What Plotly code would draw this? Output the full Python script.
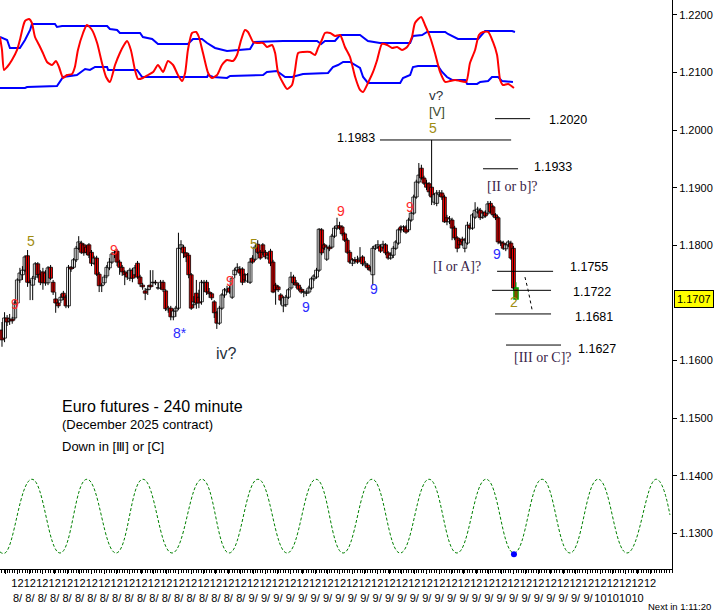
import numpy as np
import plotly.graph_objects as go

# ---------------- data ----------------
opens = [
    1.1653, 1.1639, 1.1674, 1.1669, 1.1672, 1.1674, 1.1700, 1.1740, 1.1749, 1.1757,
    1.1782, 1.1736, 1.1731, 1.1745, 1.1768, 1.1750, 1.1754, 1.1752, 1.1735, 1.1762,
    1.1736, 1.1707, 1.1700, 1.1705, 1.1717, 1.1710, 1.1695, 1.1762, 1.1762, 1.1775,
    1.1795, 1.1804, 1.1801, 1.1797, 1.1801, 1.1788, 1.1769, 1.1778, 1.1750, 1.1730,
    1.1735, 1.1747, 1.1761, 1.1771, 1.1785, 1.1790, 1.1771, 1.1762, 1.1754, 1.1752,
    1.1743, 1.1757, 1.1749, 1.1769, 1.1745, 1.1731, 1.1721, 1.1723, 1.1731, 1.1735,
    1.1736, 1.1726, 1.1726, 1.1736, 1.1721, 1.1688, 1.1691, 1.1676, 1.1686, 1.1691,
    1.1795, 1.1797, 1.1787, 1.1783, 1.1749, 1.1697, 1.1717, 1.1710, 1.1702, 1.1735,
    1.1736, 1.1719, 1.1716, 1.1702, 1.1683, 1.1665, 1.1691, 1.1714, 1.1721, 1.1726,
    1.1710, 1.1749, 1.1757, 1.1759, 1.1759, 1.1749, 1.1738, 1.1736, 1.1778, 1.1776,
    1.1802, 1.1788, 1.1801, 1.1788, 1.1778, 1.1790, 1.1771, 1.1731, 1.1728, 1.1714,
    1.1695, 1.1697, 1.1710, 1.1726, 1.1745, 1.1735, 1.1731, 1.1724, 1.1719, 1.1717,
    1.1719, 1.1726, 1.1742, 1.1745, 1.1757, 1.1827, 1.1801, 1.1776, 1.1797, 1.1797,
    1.1816, 1.1830, 1.1834, 1.1832, 1.1820, 1.1809, 1.1788, 1.1769, 1.1775, 1.1775,
    1.1775, 1.1780, 1.1766, 1.1766, 1.1761, 1.1749, 1.1795, 1.1797, 1.1799, 1.1797,
    1.1801, 1.1787, 1.1778, 1.1783, 1.1795, 1.1804, 1.1832, 1.1827, 1.1832, 1.1827,
    1.1844, 1.1856, 1.1884, 1.1910, 1.1934, 1.1917, 1.1908, 1.1907, 1.1901, 1.1875,
    1.1873, 1.1888, 1.1891, 1.1884, 1.1848, 1.1841, 1.1844, 1.1830, 1.1813, 1.1809,
    1.1811, 1.1795, 1.1804, 1.1835, 1.1830, 1.1849, 1.1858, 1.1861, 1.1849, 1.1858,
    1.1856, 1.1873, 1.1867, 1.1853, 1.1848, 1.1806, 1.1804, 1.1794, 1.1801, 1.1804,
    1.1795, 1.1726,
]
highs = [
    1.1667, 1.1684, 1.1679, 1.1681, 1.1676, 1.1705, 1.1743, 1.1761, 1.1764, 1.1783,
    1.1792, 1.1740, 1.1747, 1.1771, 1.1771, 1.1757, 1.1761, 1.1757, 1.1764, 1.1766,
    1.1740, 1.1719, 1.1705, 1.1716, 1.1721, 1.1714, 1.1766, 1.1764, 1.1778, 1.1799,
    1.1816, 1.1808, 1.1804, 1.1801, 1.1804, 1.1792, 1.1782, 1.1782, 1.1754, 1.1735,
    1.1749, 1.1766, 1.1778, 1.1788, 1.1792, 1.1794, 1.1775, 1.1766, 1.1757, 1.1757,
    1.1761, 1.1761, 1.1766, 1.1773, 1.1749, 1.1735, 1.1726, 1.1731, 1.1757, 1.1757,
    1.1740, 1.1735, 1.1740, 1.1740, 1.1724, 1.1695, 1.1695, 1.1690, 1.1695, 1.1822,
    1.1809, 1.1801, 1.1788, 1.1787, 1.1752, 1.1712, 1.1740, 1.1723, 1.1740, 1.1740,
    1.1740, 1.1726, 1.1719, 1.1705, 1.1686, 1.1695, 1.1717, 1.1726, 1.1730, 1.1730,
    1.1747, 1.1761, 1.1769, 1.1764, 1.1762, 1.1752, 1.1752, 1.1778, 1.1783, 1.1801,
    1.1809, 1.1792, 1.1804, 1.1792, 1.1788, 1.1794, 1.1775, 1.1735, 1.1731, 1.1717,
    1.1712, 1.1714, 1.1726, 1.1754, 1.1749, 1.1740, 1.1735, 1.1728, 1.1724, 1.1723,
    1.1730, 1.1745, 1.1750, 1.1761, 1.1830, 1.1830, 1.1804, 1.1801, 1.1801, 1.1820,
    1.1834, 1.1848, 1.1841, 1.1835, 1.1823, 1.1813, 1.1792, 1.1778, 1.1780, 1.1782,
    1.1797, 1.1783, 1.1773, 1.1769, 1.1764, 1.1799, 1.1802, 1.1809, 1.1802, 1.1808,
    1.1804, 1.1790, 1.1788, 1.1799, 1.1809, 1.1830, 1.1835, 1.1835, 1.1835, 1.1848,
    1.1860, 1.1888, 1.1914, 1.1943, 1.1940, 1.1921, 1.1914, 1.1910, 1.1983, 1.1891,
    1.1896, 1.1896, 1.1896, 1.1888, 1.1853, 1.1851, 1.1848, 1.1834, 1.1816, 1.1813,
    1.1815, 1.1813, 1.1841, 1.1839, 1.1856, 1.1875, 1.1867, 1.1865, 1.1860, 1.1861,
    1.1877, 1.1877, 1.1870, 1.1856, 1.1851, 1.1809, 1.1808, 1.1804, 1.1809, 1.1808,
    1.1799, 1.1736,
]
lows = [
    1.1624, 1.1632, 1.1660, 1.1662, 1.1664, 1.1670, 1.1697, 1.1735, 1.1740, 1.1754,
    1.1728, 1.1705, 1.1705, 1.1740, 1.1743, 1.1731, 1.1723, 1.1730, 1.1731, 1.1740,
    1.1714, 1.1683, 1.1691, 1.1700, 1.1705, 1.1691, 1.1691, 1.1754, 1.1759, 1.1771,
    1.1792, 1.1785, 1.1782, 1.1783, 1.1778, 1.1764, 1.1766, 1.1747, 1.1719, 1.1719,
    1.1731, 1.1743, 1.1757, 1.1768, 1.1778, 1.1764, 1.1749, 1.1747, 1.1731, 1.1740,
    1.1738, 1.1736, 1.1743, 1.1742, 1.1728, 1.1723, 1.1705, 1.1714, 1.1723, 1.1728,
    1.1731, 1.1723, 1.1723, 1.1719, 1.1686, 1.1683, 1.1670, 1.1670, 1.1676, 1.1688,
    1.1792, 1.1778, 1.1771, 1.1743, 1.1688, 1.1691, 1.1690, 1.1691, 1.1697, 1.1719,
    1.1714, 1.1709, 1.1705, 1.1674, 1.1655, 1.1662, 1.1688, 1.1709, 1.1717, 1.1716,
    1.1707, 1.1743, 1.1754, 1.1747, 1.1731, 1.1735, 1.1735, 1.1733, 1.1768, 1.1773,
    1.1785, 1.1775, 1.1783, 1.1776, 1.1775, 1.1764, 1.1717, 1.1697, 1.1719, 1.1697,
    1.1684, 1.1693, 1.1707, 1.1723, 1.1731, 1.1726, 1.1721, 1.1716, 1.1710, 1.1712,
    1.1716, 1.1723, 1.1738, 1.1742, 1.1754, 1.1783, 1.1792, 1.1773, 1.1790, 1.1794,
    1.1813, 1.1827, 1.1827, 1.1816, 1.1806, 1.1785, 1.1768, 1.1764, 1.1768, 1.1768,
    1.1771, 1.1764, 1.1762, 1.1757, 1.1754, 1.1731, 1.1792, 1.1794, 1.1787, 1.1794,
    1.1783, 1.1775, 1.1775, 1.1778, 1.1792, 1.1801, 1.1822, 1.1823, 1.1820, 1.1823,
    1.1841, 1.1853, 1.1881, 1.1907, 1.1914, 1.1905, 1.1896, 1.1886, 1.1870, 1.1870,
    1.1868, 1.1884, 1.1879, 1.1839, 1.1835, 1.1837, 1.1809, 1.1809, 1.1788, 1.1795,
    1.1799, 1.1788, 1.1801, 1.1827, 1.1827, 1.1846, 1.1855, 1.1844, 1.1846, 1.1848,
    1.1853, 1.1855, 1.1849, 1.1844, 1.1802, 1.1799, 1.1792, 1.1790, 1.1797, 1.1775,
    1.1723, 1.1705,
]
closes = [
    1.1636, 1.1674, 1.1667, 1.1672, 1.1669, 1.1700, 1.1740, 1.1752, 1.1757, 1.1780,
    1.1736, 1.1735, 1.1743, 1.1768, 1.1749, 1.1736, 1.1735, 1.1735, 1.1761, 1.1743,
    1.1719, 1.1700, 1.1695, 1.1710, 1.1710, 1.1695, 1.1762, 1.1759, 1.1775, 1.1795,
    1.1806, 1.1788, 1.1787, 1.1788, 1.1783, 1.1769, 1.1778, 1.1750, 1.1730, 1.1731,
    1.1745, 1.1762, 1.1771, 1.1785, 1.1788, 1.1771, 1.1762, 1.1754, 1.1749, 1.1745,
    1.1757, 1.1743, 1.1761, 1.1745, 1.1733, 1.1728, 1.1717, 1.1724, 1.1728, 1.1736,
    1.1735, 1.1726, 1.1736, 1.1723, 1.1690, 1.1691, 1.1676, 1.1686, 1.1691, 1.1795,
    1.1801, 1.1787, 1.1780, 1.1749, 1.1691, 1.1702, 1.1700, 1.1700, 1.1736, 1.1736,
    1.1719, 1.1716, 1.1709, 1.1683, 1.1665, 1.1691, 1.1714, 1.1723, 1.1724, 1.1719,
    1.1743, 1.1757, 1.1762, 1.1752, 1.1736, 1.1740, 1.1749, 1.1771, 1.1771, 1.1797,
    1.1788, 1.1778, 1.1788, 1.1780, 1.1783, 1.1769, 1.1719, 1.1723, 1.1723, 1.1705,
    1.1709, 1.1710, 1.1723, 1.1745, 1.1735, 1.1731, 1.1724, 1.1719, 1.1719, 1.1717,
    1.1726, 1.1742, 1.1747, 1.1757, 1.1828, 1.1787, 1.1795, 1.1797, 1.1794, 1.1816,
    1.1830, 1.1834, 1.1830, 1.1820, 1.1809, 1.1788, 1.1771, 1.1775, 1.1773, 1.1771,
    1.1778, 1.1768, 1.1769, 1.1761, 1.1757, 1.1795, 1.1799, 1.1801, 1.1790, 1.1802,
    1.1787, 1.1778, 1.1783, 1.1795, 1.1806, 1.1827, 1.1827, 1.1832, 1.1823, 1.1844,
    1.1856, 1.1884, 1.1910, 1.1922, 1.1917, 1.1908, 1.1901, 1.1893, 1.1884, 1.1888,
    1.1891, 1.1891, 1.1884, 1.1841, 1.1841, 1.1846, 1.1830, 1.1813, 1.1795, 1.1801,
    1.1806, 1.1809, 1.1835, 1.1830, 1.1853, 1.1861, 1.1863, 1.1848, 1.1856, 1.1851,
    1.1872, 1.1858, 1.1853, 1.1848, 1.1806, 1.1804, 1.1795, 1.1801, 1.1806, 1.1778,
    1.1726, 1.1707,
]

# oscillator panel (0-100 scale), x in bar index
osc_x = [-0.8, 0, 0.8, 2.0, 3.9, 5.9, 7.0, 8.2, 9.0, 10.6,
         11.7, 12.9, 14.5, 16.0, 17.6, 19.6, 21.1, 22.3, 23.9, 25.4,
         27.4, 28.5, 29.7, 31.7, 33.2, 35.2, 37.2, 39.1, 40.7, 42.2,
         44.2, 46.1, 47.7, 48.9, 50.4, 52.0, 53.2, 55.1, 57.1, 59.1,
         61.0, 63.0, 64.9, 66.9, 68.8, 70.4, 71.6, 72.7, 74.3, 75.9,
         77.0, 78.6, 80.6, 82.1, 84.1, 86.0, 88.0, 90.3, 91.9, 93.5,
         95.0, 96.2, 98.2, 99.7, 102.1, 103.6, 105.6, 106.8, 107.9, 109.9,
         111.5, 113.4, 114.6, 115.8, 117.7, 120.5, 122.4, 123.6, 125.1, 126.3,
         128.3, 130.2, 132.2, 134.1, 136.1, 138.1, 140.0, 141.2, 143.1, 145.1,
         146.7, 148.6, 150.6, 152.5, 154.5, 156.4, 158.4, 160.3, 161.5, 163.9,
         165.4, 167.4, 169.3, 171.3, 173.3, 175.2, 177.2, 179.1, 181.5, 183.0,
         185.0, 186.5, 188.1, 190.1, 192.0, 193.6, 194.8, 195.9, 197.9, 200.2]
osc_red = [72.5, 56.3, 31.3, 35, 43.8, 56.3, 68.8, 85, 92.5, 95,
           90, 72.5, 62.5, 52.5, 41.3, 37.5, 42.5, 35, 21.3, 25,
           26.3, 35, 56.3, 77.5, 87.5, 81.3, 65, 40, 22.5, 16.3,
           37.5, 52.5, 62.5, 67.5, 56.3, 31.3, 20, 21.3, 25, 28.8,
           37.5, 28.8, 42.5, 37.5, 25, 17.5, 27.5, 56.3, 77.5, 78.8,
           72.5, 52.5, 27.5, 21.3, 25, 37.5, 43.8, 42.5, 50, 68.8,
           81.3, 78.8, 66.3, 65, 65, 60, 62.5, 52.5, 28.8, 15,
           7.5, 12.5, 31.3, 52.5, 53.8, 53.8, 50, 58.8, 68.8, 77.5,
           77.5, 73.8, 75, 60, 47.5, 22.5, 6.3, 3.8, 15, 28.8,
           43.8, 63.8, 62.5, 58.8, 60, 56.3, 60, 72.5, 90, 97.5,
           87.5, 72.5, 52.5, 28.8, 16.3, 17.5, 18.8, 17.5, 16.3, 40,
           56.3, 75, 78.8, 78.8, 66.3, 50, 18.8, 12.5, 13.8, 8.8]
band_up_x = [-0.8, 2.0, 3.1, 7.0, 9.0, 11.0, 11.7, 20.7, 21.5, 23.5,
             41.1, 42.2, 45.0, 46.1, 54.0, 55.1, 58.7, 61.0, 72.7, 74.7,
             78.2, 80.2, 83.3, 88.0, 97.0, 98.6, 109.9, 123.2, 124.8, 126.3,
             130.2, 132.2, 140.0, 143.1, 147.8, 159.6, 160.7, 164.3, 166.2, 173.3,
             174.4, 178.3, 186.2, 188.9, 199.5, 200.6]
band_up = [72.5, 68.8, 58.8, 58.8, 68.8, 81.3, 88.8, 88.8, 85, 86.3,
           86.3, 82.5, 81.3, 77.5, 77.5, 72.5, 70, 63.8, 63.8, 70,
           70, 65, 58.8, 55, 57.5, 66.3, 67.5, 67.5, 63.8, 67.5,
           67.5, 75, 75, 67.5, 65, 65, 73.8, 75, 78.8, 78.8,
           76.3, 70, 70, 80, 80, 78.8]
band_lo_x = [-0.8, 9.0, 9.8, 21.5, 23.9, 29.3, 32.5, 34.4, 36.4, 41.1,
             41.5, 52.8, 54.8, 80.2, 80.6, 82.5, 88.0, 89.2, 102.1, 103.6,
             107.5, 110.7, 113.4, 117.7, 127.5, 129.4, 131.4, 133.4, 136.1, 138.1,
             140.0, 141.2, 143.1, 155.7, 156.8, 159.6, 160.7, 162.7, 170.5, 172.1,
             174.0, 176.0, 181.1, 181.9, 185.8, 187.0, 190.1, 191.6, 194.0, 195.5, 199.8]
band_lo = [8.8, 8.8, 10, 11.3, 22.5, 25, 32.5, 31.3, 35, 35,
           31.3, 31.3, 22.5, 22.5, 25, 22.5, 21.3, 23.8, 25, 28.8,
           30, 22.5, 22.5, 26.3, 27.5, 35, 37.5, 41.3, 41.3, 37.5,
           33.8, 22.5, 15, 15, 21.3, 25, 35, 36.3, 36.3, 28.8,
           22.5, 18.8, 18.8, 13.8, 13.8, 16.3, 17.5, 22.5, 22.5, 17.5, 16.3]

# cycle line (turning points)
cycle_x = [-0.8, 1.2, 11.7, 22.7, 33.2, 44.6, 55.1, 66.5, 78.2, 88.8, 100.1, 111.5,
           122.8, 133.4, 144.7, 155.7, 167.0, 177.9, 189.3, 200.2, 211.2, 222.1,
           233.1, 244.4, 255.8, 261.2]
cycle_y = [1.1268, 1.1266, 1.1394, 1.1266, 1.1394, 1.1266, 1.1394, 1.1266, 1.1394,
           1.1266, 1.1394, 1.1266, 1.1394, 1.1266, 1.1394, 1.1266, 1.1394, 1.1266,
           1.1394, 1.1266, 1.1394, 1.1266, 1.1394, 1.1266, 1.1394, 1.1332]
cycle_dot_x = [200.2]
cycle_dot_y = [1.1264]

# price levels
level_values = [1.2020, 1.1983, 1.1933, 1.1755, 1.1722, 1.1681, 1.1627]
level_x0 = [192.8, 147.8, 188.1, 193.6, 191.6, 192.8, 197.1]
level_x1 = [206.5, 199.1, 201.8, 215.5, 214.7, 214.7, 218.6]
level_label_x = [213.1, 146.7, 207.3, 221.4, 222.5, 223.3, 224.5]
level_label_y = [1.2018, 1.1986, 1.1936, 1.1762, 1.1719, 1.1676, 1.1620]
level_label_anchor = ["left", "right", "left", "left", "left", "left", "left"]

proj_x = [204.5, 205.7, 207.3]
proj_y = [1.1745, 1.1723, 1.1688]

# wave / count labels
lab_x = [5.1, 43.8, 89.2, 132.6, 159.6, 118.9, 145.5, 193.6, 69.6, 11.3, 98.6, 168.6, 200.2]
lab_y = [1.1698, 1.1792, 1.1738, 1.1860, 1.1867, 1.1693, 1.1724, 1.1785, 1.1648,
         1.1808, 1.1802, 1.2003, 1.1702]
lab_t = ["9", "9", "9", "9", "9", "9", "9", "9", "8*", "5", "5", "5", "2"]
lab_c = ["#ff2a2a"] * 5 + ["#2a2aff"] * 4 + ["#a08c10"] * 4

last_price = 1.1707
price_ticks = [1.13, 1.14, 1.15, 1.16, 1.18, 1.19, 1.20, 1.21, 1.22]
tick_top = "12"
month_labels = ["8/"] * 20 + ["9/"] * 28 + ["10"] * 4 + [""]

# ---------------- figure ----------------
SANS = "Liberation Sans, Arial, sans-serif"
SERIF = "Liberation Serif, Times New Roman, serif"

n = len(closes)
hist = list(range(n - 1))
last = n - 1

fig = go.Figure()

# wicks
wx, wy = [], []
for i in hist:
    wx += [i, i, None]
    wy += [lows[i], highs[i], None]
fig.add_trace(go.Scatter(x=wx, y=wy, mode="lines", line=dict(color="black", width=1),
                         hoverinfo="skip", showlegend=False))

# bodies: one trace so later bars overlap earlier ones
base = [min(opens[i], closes[i]) for i in hist]
height = [max(abs(closes[i] - opens[i]), 0.00004) for i in hist]
fill = ["white" if closes[i] >= opens[i] else "#ff0000" for i in hist]
fig.add_trace(go.Bar(x=hist, y=height, base=base, width=1.5,
                     marker=dict(color=fill, line=dict(color="black", width=0.8)),
                     hoverinfo="skip", showlegend=False))

# current bar (green outline)
fig.add_trace(go.Scatter(x=[last, last], y=[lows[last], highs[last]], mode="lines",
                         line=dict(color="#00a000", width=1), showlegend=False, hoverinfo="skip"))
fig.add_trace(go.Bar(x=[last], y=[abs(closes[last] - opens[last])],
                     base=[min(opens[last], closes[last])], width=1.6,
                     marker=dict(color="#ff0000", line=dict(color="#00a000", width=1.5)),
                     showlegend=False, hoverinfo="skip"))

# oscillator on its own hidden scale
fig.add_trace(go.Scatter(x=band_up_x, y=band_up, yaxis="y2", mode="lines",
                         line=dict(color="#0000ff", width=2), showlegend=False, hoverinfo="skip"))
fig.add_trace(go.Scatter(x=band_lo_x, y=band_lo, yaxis="y2", mode="lines",
                         line=dict(color="#0000ff", width=2), showlegend=False, hoverinfo="skip"))
fig.add_trace(go.Scatter(x=osc_x, y=osc_red, yaxis="y2", mode="lines",
                         line=dict(color="#ff0000", width=2, shape="spline", smoothing=0.6),
                         showlegend=False, hoverinfo="skip"))

# cycle
fig.add_trace(go.Scatter(x=cycle_x, y=cycle_y, mode="lines",
                         line=dict(color="#008000", width=1, dash="3px,2px", shape="spline", smoothing=1.3),
                         showlegend=False, hoverinfo="skip"))
fig.add_trace(go.Scatter(x=cycle_dot_x, y=cycle_dot_y, mode="markers",
                         marker=dict(color="#0000ff", size=6), showlegend=False, hoverinfo="skip"))

# levels
lx, ly = [], []
for v, a, bb in zip(level_values, level_x0, level_x1):
    lx += [a, bb, None]
    ly += [v, v, None]
fig.add_trace(go.Scatter(x=lx, y=ly, mode="lines", line=dict(color="black", width=1),
                         showlegend=False, hoverinfo="skip"))
fig.add_trace(go.Scatter(x=proj_x, y=proj_y, mode="lines",
                         line=dict(color="black", width=1, dash="dot"), showlegend=False, hoverinfo="skip"))

ann = []
for v, x, y, a in zip(level_values, level_label_x, level_label_y, level_label_anchor):
    ann.append(dict(x=x, y=y, xref="x", yref="y", text=f"{v:.4f}", showarrow=False,
                    xanchor=a, yanchor="middle", font=dict(family=SANS, size=12.5, color="black")))
for x, y, t, c in zip(lab_x, lab_y, lab_t, lab_c):
    ann.append(dict(x=x, y=y, xref="x", yref="y", text=t, showarrow=False,
                    xanchor="center", yanchor="middle", font=dict(family=SANS, size=14, color=c)))

BR = "#3a2448"
for x, y, t in ((188.9, 1.1903, "[II or b]?"), (167.8, 1.1763, "[I or A]?"), (199.5, 1.1606, "[III or C]?")):
    ann.append(dict(x=x, y=y, xref="x", yref="y", text=t, showarrow=False, xanchor="left",
                    yanchor="middle", font=dict(family=SERIF, size=14, color=BR)))
ann.append(dict(x=169.7, y=1.2060, xref="x", yref="y", text="v?", showarrow=False,
                font=dict(family=SANS, size=13.5, color="#2a2f3a")))
ann.append(dict(x=170.1, y=1.2033, xref="x", yref="y", text="[V]", showarrow=False,
                font=dict(family=SANS, size=13, color="#3b4a30")))
ann.append(dict(x=87.6, y=1.1613, xref="x", yref="y", text="iv?", showarrow=False,
                font=dict(family=SANS, size=16, color="#26303c")))

ann.append(dict(x=60 / 672, y=1 - 406 / 569, xref="paper", yref="paper", xanchor="left", yanchor="middle",
                text="Euro futures - 240 minute", showarrow=False, font=dict(family=SANS, size=16, color="black")))
ann.append(dict(x=60 / 672, y=1 - 424 / 569, xref="paper", yref="paper", xanchor="left", yanchor="middle",
                text="(December 2025 contract)", showarrow=False, font=dict(family=SANS, size=13, color="black")))
ann.append(dict(x=60 / 672, y=1 - 446 / 569, xref="paper", yref="paper", xanchor="left", yanchor="middle",
                text="Down in [Ⅲ] or [C]", showarrow=False, font=dict(family=SANS, size=13, color="black")))

ann.append(dict(x=1, y=last_price, xref="paper", yref="y", xanchor="left", yanchor="middle", xshift=2,
                text=f"{last_price:.4f}", showarrow=False, bgcolor="#ffff00", bordercolor="black",
                borderwidth=1, borderpad=2, font=dict(family=SANS, size=11, color="black")))
ann.append(dict(x=646 / 672, y=-(606 - 569) / 569, xref="paper", yref="paper", xanchor="left",
                yanchor="middle", text="Next in 1:11:20", showarrow=False,
                font=dict(family=SANS, size=9.5, color="black")))

tickvals = list(1.2 + 4.85 * np.arange(len(month_labels)))
ticktext = [f"{tick_top}<br>{m}" for m in month_labels]

fig.update_layout(
    template="none",
    width=727, height=614,
    margin=dict(l=0, r=55, t=0, b=45, pad=0),
    paper_bgcolor="white", plot_bgcolor="white",
    barmode="overlay", showlegend=False, hovermode=False,
    font=dict(family=SANS, size=11, color="black"),
    xaxis=dict(range=[-0.78, 262.0], showgrid=False, zeroline=False, showline=True,
               linecolor="black", linewidth=1, ticks="outside", ticklen=4, tickcolor="black",
               tickvals=tickvals, ticktext=ticktext, tickangle=0, automargin=False,
               tickfont=dict(family=SANS, size=11, color="black"),
               minor=dict(tickmode="linear", tick0=0, dtick=1, ticks="outside", ticklen=3,
                          tickcolor="black", showgrid=False)),
    yaxis=dict(range=[1.12382, 1.2226], side="right", showgrid=False, zeroline=False,
               showline=True, linecolor="black", linewidth=1, ticks="outside", ticklen=4,
               tickcolor="black", tickmode="array", tickvals=price_ticks, tickformat=".4f",
               automargin=False, tickfont=dict(family=SANS, size=11, color="black")),
    yaxis2=dict(overlaying="y", range=[-592.5, 118.75], visible=False, showgrid=False,
                zeroline=False),
    annotations=ann,
)

fig.write_html("out.html", config={"displayModeBar": False},
               post_script="document.body.style.margin='0';document.body.style.overflow='hidden';")
